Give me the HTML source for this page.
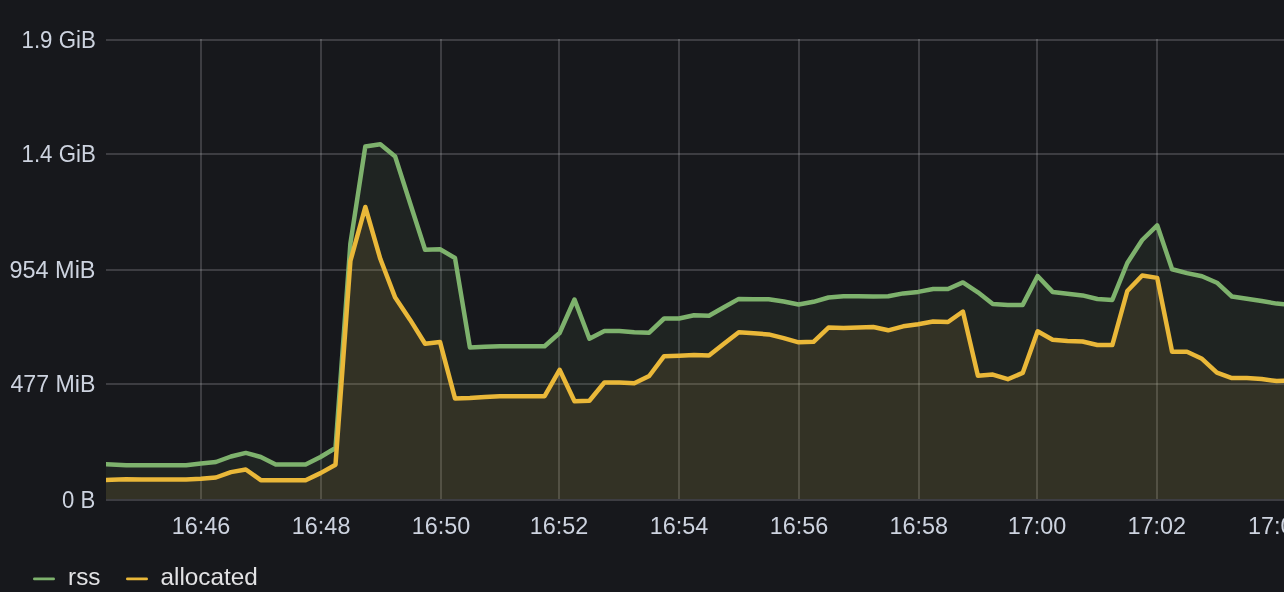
<!DOCTYPE html>
<html><head><meta charset="utf-8"><style>
html,body{margin:0;padding:0;background:#17181c;width:1284px;height:592px;overflow:hidden}
svg{display:block;will-change:transform}
.lg{fill:#e2e2e4}
text{font-family:"Liberation Sans",sans-serif;font-size:24px;fill:#cdd3df}
</style></head><body>
<svg width="1284" height="592" viewBox="0 0 1284 592">
<defs><clipPath id="c"><rect x="106" y="0" width="1178" height="499"/></clipPath></defs>
<rect x="106" y="39" width="1178" height="2" fill="rgba(204,204,208,0.21)"/><rect x="106" y="153" width="1178" height="2" fill="rgba(204,204,208,0.21)"/><rect x="106" y="269" width="1178" height="2" fill="rgba(204,204,208,0.21)"/><rect x="106" y="383" width="1178" height="2" fill="rgba(204,204,208,0.21)"/><rect x="200" y="39" width="2" height="460" fill="rgba(204,204,208,0.21)"/><rect x="320" y="39" width="2" height="460" fill="rgba(204,204,208,0.21)"/><rect x="440" y="39" width="2" height="460" fill="rgba(204,204,208,0.21)"/><rect x="558" y="39" width="2" height="460" fill="rgba(204,204,208,0.21)"/><rect x="678" y="39" width="2" height="460" fill="rgba(204,204,208,0.21)"/><rect x="798" y="39" width="2" height="460" fill="rgba(204,204,208,0.21)"/><rect x="918" y="39" width="2" height="460" fill="rgba(204,204,208,0.21)"/><rect x="1036" y="39" width="2" height="460" fill="rgba(204,204,208,0.21)"/><rect x="1156" y="39" width="2" height="460" fill="rgba(204,204,208,0.21)"/><rect x="106" y="499" width="1178" height="2" fill="rgba(204,204,208,0.21)"/>
<g clip-path="url(#c)">
<path d="M96.4,499 L96.4,464.0 111.4,464.5 126.3,465.2 141.2,465.2 156.2,465.2 171.1,465.2 186.1,465.2 201.0,463.5 215.9,462.0 230.9,456.5 245.8,452.9 260.8,457.0 275.7,464.5 290.6,464.5 305.6,464.5 320.5,457.0 335.5,448.0 350.4,243.5 365.3,146.5 380.3,144.2 395.2,156.6 410.2,203.5 425.1,249.7 440.0,249.2 455.0,258.0 469.9,347.4 484.9,346.8 499.8,346.2 514.7,346.2 529.7,346.2 544.6,346.2 559.6,333.0 574.5,299.5 589.4,338.7 604.4,331.0 619.3,331.0 634.3,332.3 649.2,332.7 664.1,318.5 679.1,318.5 694.0,315.2 709.0,315.7 723.9,307.2 738.8,298.9 753.8,299.3 768.7,299.3 783.7,301.5 798.6,304.5 813.5,301.8 828.5,297.5 843.4,296.3 858.4,296.3 873.3,296.5 888.2,296.3 903.2,293.4 918.1,291.9 933.1,289.0 948.0,289.0 962.9,282.4 977.9,292.3 992.8,304.1 1007.8,304.9 1022.7,304.9 1037.6,276.0 1052.6,291.9 1067.5,293.8 1082.5,295.4 1097.4,299.0 1112.3,299.9 1127.3,263.0 1142.2,240.0 1157.2,225.3 1172.1,269.2 1187.0,273.1 1202.0,276.3 1216.9,282.7 1231.9,296.5 1246.8,298.8 1261.7,301.0 1276.7,303.6 1291.6,305.0 L1291.6,499 Z" fill="#7eb26d" fill-opacity="0.08"/>
<polyline points="96.4,464.0 111.4,464.5 126.3,465.2 141.2,465.2 156.2,465.2 171.1,465.2 186.1,465.2 201.0,463.5 215.9,462.0 230.9,456.5 245.8,452.9 260.8,457.0 275.7,464.5 290.6,464.5 305.6,464.5 320.5,457.0 335.5,448.0 350.4,243.5 365.3,146.5 380.3,144.2 395.2,156.6 410.2,203.5 425.1,249.7 440.0,249.2 455.0,258.0 469.9,347.4 484.9,346.8 499.8,346.2 514.7,346.2 529.7,346.2 544.6,346.2 559.6,333.0 574.5,299.5 589.4,338.7 604.4,331.0 619.3,331.0 634.3,332.3 649.2,332.7 664.1,318.5 679.1,318.5 694.0,315.2 709.0,315.7 723.9,307.2 738.8,298.9 753.8,299.3 768.7,299.3 783.7,301.5 798.6,304.5 813.5,301.8 828.5,297.5 843.4,296.3 858.4,296.3 873.3,296.5 888.2,296.3 903.2,293.4 918.1,291.9 933.1,289.0 948.0,289.0 962.9,282.4 977.9,292.3 992.8,304.1 1007.8,304.9 1022.7,304.9 1037.6,276.0 1052.6,291.9 1067.5,293.8 1082.5,295.4 1097.4,299.0 1112.3,299.9 1127.3,263.0 1142.2,240.0 1157.2,225.3 1172.1,269.2 1187.0,273.1 1202.0,276.3 1216.9,282.7 1231.9,296.5 1246.8,298.8 1261.7,301.0 1276.7,303.6 1291.6,305.0" fill="none" stroke="#7eb26d" stroke-width="4.5" stroke-linejoin="round"/>
<path d="M96.4,499 L96.4,480.2 111.4,479.7 126.3,479.2 141.2,479.5 156.2,479.5 171.1,479.5 186.1,479.5 201.0,478.8 215.9,477.5 230.9,472.1 245.8,469.5 260.8,480.2 275.7,480.2 290.6,480.2 305.6,480.2 320.5,473.1 335.5,464.7 350.4,261.0 365.3,207.0 380.3,258.8 395.2,297.6 410.2,319.9 425.1,343.7 440.0,341.9 455.0,398.4 469.9,398.0 484.9,397.0 499.8,396.2 514.7,396.2 529.7,396.2 544.6,396.2 559.6,369.8 574.5,401.3 589.4,400.8 604.4,382.5 619.3,382.5 634.3,383.2 649.2,376.0 664.1,356.2 679.1,355.7 694.0,355.1 709.0,355.5 723.9,343.8 738.8,332.2 753.8,333.3 768.7,334.4 783.7,338.1 798.6,342.3 813.5,341.8 828.5,327.6 843.4,327.9 858.4,327.5 873.3,327.0 888.2,330.3 903.2,326.3 918.1,324.2 933.1,321.5 948.0,322.0 962.9,311.5 977.9,375.7 992.8,374.6 1007.8,379.2 1022.7,372.9 1037.6,331.3 1052.6,339.8 1067.5,341.0 1082.5,341.5 1097.4,345.0 1112.3,345.1 1127.3,291.0 1142.2,275.5 1157.2,277.9 1172.1,351.7 1187.0,351.7 1202.0,358.8 1216.9,372.6 1231.9,378.1 1246.8,378.1 1261.7,379.0 1276.7,381.1 1291.6,380.5 L1291.6,499 Z" fill="#eab839" fill-opacity="0.1"/>
<polyline points="96.4,480.2 111.4,479.7 126.3,479.2 141.2,479.5 156.2,479.5 171.1,479.5 186.1,479.5 201.0,478.8 215.9,477.5 230.9,472.1 245.8,469.5 260.8,480.2 275.7,480.2 290.6,480.2 305.6,480.2 320.5,473.1 335.5,464.7 350.4,261.0 365.3,207.0 380.3,258.8 395.2,297.6 410.2,319.9 425.1,343.7 440.0,341.9 455.0,398.4 469.9,398.0 484.9,397.0 499.8,396.2 514.7,396.2 529.7,396.2 544.6,396.2 559.6,369.8 574.5,401.3 589.4,400.8 604.4,382.5 619.3,382.5 634.3,383.2 649.2,376.0 664.1,356.2 679.1,355.7 694.0,355.1 709.0,355.5 723.9,343.8 738.8,332.2 753.8,333.3 768.7,334.4 783.7,338.1 798.6,342.3 813.5,341.8 828.5,327.6 843.4,327.9 858.4,327.5 873.3,327.0 888.2,330.3 903.2,326.3 918.1,324.2 933.1,321.5 948.0,322.0 962.9,311.5 977.9,375.7 992.8,374.6 1007.8,379.2 1022.7,372.9 1037.6,331.3 1052.6,339.8 1067.5,341.0 1082.5,341.5 1097.4,345.0 1112.3,345.1 1127.3,291.0 1142.2,275.5 1157.2,277.9 1172.1,351.7 1187.0,351.7 1202.0,358.8 1216.9,372.6 1231.9,378.1 1246.8,378.1 1261.7,379.0 1276.7,381.1 1291.6,380.5" fill="none" stroke="#eab839" stroke-width="4.5" stroke-linejoin="round"/>
</g>
<text transform="translate(21.55,48) scale(0.9273,1)" x="0" y="0" >1.9 GiB</text><text transform="translate(21.55,162) scale(0.9273,1)" x="0" y="0" >1.4 GiB</text><text transform="translate(9.47,278) scale(0.9773,1)" x="0" y="0" >954 MiB</text><text transform="translate(10.45,392) scale(0.9661,1)" x="0" y="0" >477 MiB</text><text transform="translate(61.98,508) scale(0.9235,1)" x="0" y="0" >0 B</text>
<text transform="translate(171.75,534) scale(0.9754,1)" x="0" y="0" >16:46</text><text transform="translate(291.85,534) scale(0.9754,1)" x="0" y="0" >16:48</text><text transform="translate(411.75,534) scale(0.9754,1)" x="0" y="0" >16:50</text><text transform="translate(529.75,534) scale(0.9754,1)" x="0" y="0" >16:52</text><text transform="translate(649.75,534) scale(0.9754,1)" x="0" y="0" >16:54</text><text transform="translate(769.75,534) scale(0.9754,1)" x="0" y="0" >16:56</text><text transform="translate(889.55,534) scale(0.9754,1)" x="0" y="0" >16:58</text><text transform="translate(1007.75,534) scale(0.9754,1)" x="0" y="0" >17:00</text><text transform="translate(1127.55,534) scale(0.9754,1)" x="0" y="0" >17:02</text><text transform="translate(1248.05,534) scale(0.9754,1)" x="0" y="0" >17:04</text>
<rect x="33" y="577.5" width="22" height="2.8" rx="1.4" fill="#7eb26d"/>

<rect x="126" y="577.5" width="22" height="2.8" rx="1.4" fill="#eab839"/>
<text transform="translate(68.09,585) scale(1.0133,1)" x="0" y="0" class="lg">rss</text><text transform="translate(160.49,585) scale(1.0138,1)" x="0" y="0" class="lg">allocated</text>
</svg>
</body></html>
